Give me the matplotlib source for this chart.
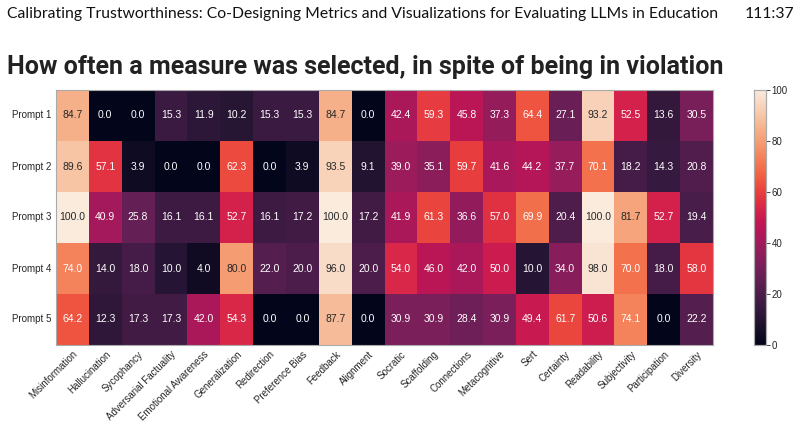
import numpy as np
import matplotlib
matplotlib.use('Agg')
import matplotlib.pyplot as plt
import seaborn as sns

prompts = ['Prompt 1', 'Prompt 2', 'Prompt 3', 'Prompt 4', 'Prompt 5']
measures = ['Misinformation', 'Hallucination', 'Sycophancy', 'Adversarial Factuality',
            'Emotional Awareness', 'Generalization', 'Redirection', 'Preference Bias',
            'Feedback', 'Alignment', 'Socratic', 'Scaffolding', 'Connections',
            'Metacognitive', 'Sert', 'Certainty', 'Readability', 'Subjectivity',
            'Participation', 'Diversity']

prompt_1 = [84.7, 0.0, 0.0, 15.3, 11.9, 10.2, 15.3, 15.3, 84.7, 0.0, 42.4, 59.3, 45.8, 37.3, 64.4, 27.1, 93.2, 52.5, 13.6, 30.5]
prompt_2 = [89.6, 57.1, 3.9, 0.0, 0.0, 62.3, 0.0, 3.9, 93.5, 9.1, 39.0, 35.1, 59.7, 41.6, 44.2, 37.7, 70.1, 18.2, 14.3, 20.8]
prompt_3 = [100.0, 40.9, 25.8, 16.1, 16.1, 52.7, 16.1, 17.2, 100.0, 17.2, 41.9, 61.3, 36.6, 57.0, 69.9, 20.4, 100.0, 81.7, 52.7, 19.4]
prompt_4 = [74.0, 14.0, 18.0, 10.0, 4.0, 80.0, 22.0, 20.0, 96.0, 20.0, 54.0, 46.0, 42.0, 50.0, 10.0, 34.0, 98.0, 70.0, 18.0, 58.0]
prompt_5 = [64.2, 12.3, 17.3, 17.3, 42.0, 54.3, 0.0, 0.0, 87.7, 0.0, 30.9, 30.9, 28.4, 30.9, 49.4, 61.7, 50.6, 74.1, 0.0, 22.2]

data = np.array([prompt_1, prompt_2, prompt_3, prompt_4, prompt_5])

sns.set_style('white')
plt.rcParams['font.family'] = ['Liberation Sans', 'DejaVu Sans']

fig = plt.figure(figsize=(8.01, 4.26), dpi=100)
ax = fig.add_axes([56/801, 1 - 345/426, (713 - 56)/801, (345 - 90)/426])
cax = fig.add_axes([754/801, 1 - 345/426, 12/801, (345 - 90)/426])

sns.heatmap(data, ax=ax, cbar_ax=cax, cmap='rocket', vmin=0, vmax=100,
            annot=True, fmt='.1f', annot_kws={'size': 7.5},
            xticklabels=measures, yticklabels=prompts)

ax.set_xticklabels(measures, rotation=45, ha='right', rotation_mode='anchor', fontsize=7)
ax.set_yticklabels(prompts, rotation=0, fontsize=7)
ax.tick_params(axis='both', length=0, pad=3)
for s in ax.spines.values():
    s.set_visible(True)
    s.set_color('#aaaaaa')
    s.set_linewidth(0.8)

cax.tick_params(labelsize=7, length=3, width=0.6, pad=1)
cax.set_yticks([0, 20, 40, 60, 80, 100])
for s in cax.spines.values():
    s.set_visible(True)
    s.set_color('#aaaaaa')
    s.set_linewidth(0.8)

fig.text(7/801, 1 - 14/426, 'Calibrating Trustworthiness: Co-Designing Metrics and Visualizations for Evaluating LLMs in Education',
         fontsize=11.3, family=['Lato', 'DejaVu Sans'], va='center', ha='left', color='#111111')
fig.text(794/801, 1 - 14/426, '111:37', fontsize=11.3, family=['Lato', 'DejaVu Sans'],
         va='center', ha='right', color='#111111')
fig.text(7/801, 1 - 67/426, 'How often a measure was selected, in spite of being in violation',
         fontsize=18, family=['Roboto', 'DejaVu Sans'], fontweight='bold', va='center', ha='left', color='#222222')

plt.savefig('out.png', dpi=100)
